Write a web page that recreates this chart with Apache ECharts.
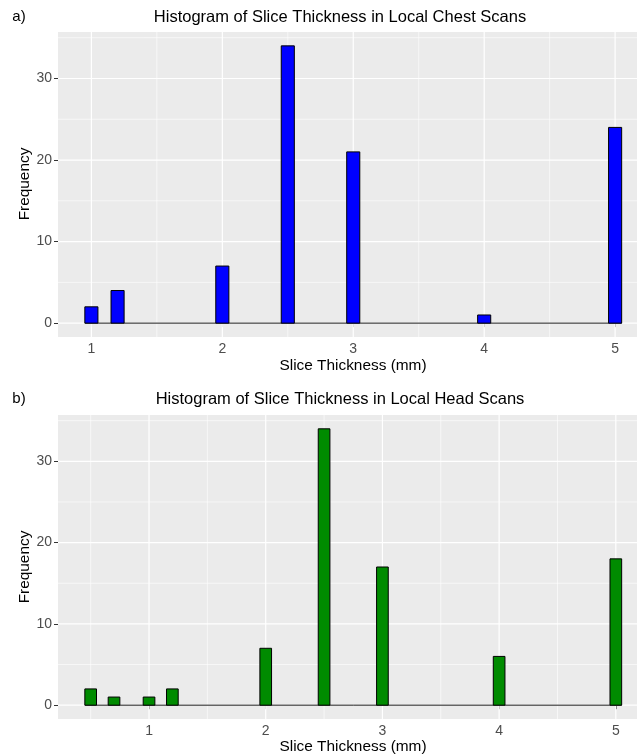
<!DOCTYPE html>
<html>
<head>
<meta charset="utf-8">
<script src="https://cdn.jsdelivr.net/npm/echarts@6/dist/echarts.min.js"></script>
<style>
  html, body { margin: 0; padding: 0; background: #ffffff; }
  #chart { width: 637px; height: 756px; }
</style>
</head>
<body>
<div id="chart"></div>
<script>
// Slice thickness (mm) observed in each scan set, and how many scans had it
const chestThickness = [1.0, 1.2, 2.0, 2.5, 3.0, 4.0, 5.0];
const chestCounts    = [2, 4, 7, 34, 21, 1, 24];
const headThickness  = [0.5, 0.7, 1.0, 1.2, 2.0, 2.5, 3.0, 4.0, 5.0];
const headCounts     = [2, 1, 1, 2, 7, 34, 17, 6, 18];
const binWidth = 0.1;

// Axis breaks
const xBreaks = [1, 2, 3, 4, 5];
const yBreaks = [0, 10, 20, 30];
const xMinorChest = [1.5, 2.5, 3.5, 4.5];
const xMinorHead  = [0.5, 1.5, 2.5, 3.5, 4.5];
const yMinor = [5, 15, 25, 35];

const FONT = '"Liberation Sans", Arial, Helvetica, sans-serif';
const PANEL_BG = '#EBEBEB';

// ggplot-like 5% padding around the binned range
function xRange(values) {
  const lo = Math.min(...values) - binWidth / 2;
  const hi = Math.max(...values) + binWidth / 2;
  const pad = 0.05 * (hi - lo);
  return { lo, hi, min: lo - pad, max: hi + pad };
}
function yRange(counts) {
  const hi = Math.max(...counts);
  return { min: -0.05 * hi, max: hi * 1.05 };
}

const chestX = xRange(chestThickness), headX = xRange(headThickness);
const chestY = yRange(chestCounts),    headY = yRange(headCounts);

function gridLineSeries(gridIndex, dir, values, width) {
  return {
    type: 'custom',
    xAxisIndex: gridIndex, yAxisIndex: gridIndex,
    silent: true, z: 1,
    data: values.map(v => dir === 'v' ? [v, 0] : [1, v]),
    encode: { x: 0, y: 1 },
    renderItem(params, api) {
      const cs = params.coordSys;
      if (dir === 'v') {
        const px = api.coord([api.value(0), 0])[0];
        return { type: 'line', shape: { x1: px, y1: cs.y, x2: px, y2: cs.y + cs.height },
                 style: { stroke: '#ffffff', lineWidth: width } };
      }
      const py = api.coord([1, api.value(1)])[1];
      return { type: 'line', shape: { x1: cs.x, y1: py, x2: cs.x + cs.width, y2: py },
               style: { stroke: '#ffffff', lineWidth: width } };
    }
  };
}

function barSeries(gridIndex, xs, counts, color) {
  return {
    type: 'custom',
    xAxisIndex: gridIndex, yAxisIndex: gridIndex,
    z: 3,
    data: xs.map((x, i) => [x, counts[i]]),
    encode: { x: 0, y: 1 },
    renderItem(params, api) {
      const x = api.value(0), y = api.value(1);
      const p0 = api.coord([x - binWidth / 2, y]);
      const p1 = api.coord([x + binWidth / 2, 0]);
      return { type: 'rect',
               shape: { x: p0[0], y: p0[1], width: p1[0] - p0[0], height: p1[1] - p0[1] },
               style: { fill: color, stroke: '#000000', lineWidth: 1 } };
    }
  };
}

function baselineSeries(gridIndex, range) {
  return {
    type: 'line', xAxisIndex: gridIndex, yAxisIndex: gridIndex,
    silent: true, z: 2, symbol: 'none',
    data: [[range.lo, 0], [range.hi, 0]],
    lineStyle: { color: '#1a1a1a', width: 1 }
  };
}

function xAxis(gridIndex, range) {
  return {
    type: 'value', gridIndex, min: range.min, max: range.max,
    axisLine: { show: false },
    axisTick: { show: true, length: 4, customValues: xBreaks, lineStyle: { color: '#333333', width: 1 } },
    axisLabel: { customValues: xBreaks, color: '#4D4D4D', fontSize: 14, fontFamily: FONT, margin: 5 },
    splitLine: { show: false }
  };
}
function yAxis(gridIndex, range) {
  return {
    type: 'value', gridIndex, min: range.min, max: range.max,
    axisLine: { show: false },
    axisTick: { show: true, length: 4, customValues: yBreaks, lineStyle: { color: '#333333', width: 1 } },
    axisLabel: { customValues: yBreaks, color: '#4D4D4D', fontSize: 14, fontFamily: FONT, margin: 6 },
    splitLine: { show: false }
  };
}

function label(text, x, y, size, opts) {
  return Object.assign({
    type: 'text', x, y, silent: true,
    style: { text, fill: '#000000', font: size + 'px ' + FONT, textAlign: 'center', textVerticalAlign: 'middle' }
  }, opts || {});
}

// Panels run a little past the right edge of the canvas
const panelBase = { left: 58, width: 590.5, show: true, backgroundColor: PANEL_BG, borderWidth: 0,
                    containLabel: false, outerBoundsMode: 'none' };

const chart = echarts.init(document.getElementById('chart'), null, { renderer: 'canvas' });
chart.setOption({
  animation: false,
  backgroundColor: '#ffffff',
  grid: [
    Object.assign({ top: 32,  height: 305 }, panelBase),
    Object.assign({ top: 415, height: 304 }, panelBase)
  ],
  xAxis: [xAxis(0, chestX), xAxis(1, headX)],
  yAxis: [yAxis(0, chestY), yAxis(1, headY)],
  series: [
    gridLineSeries(0, 'v', xMinorChest, 0.6),
    gridLineSeries(0, 'h', yMinor, 0.6),
    gridLineSeries(0, 'v', xBreaks, 1.2),
    gridLineSeries(0, 'h', yBreaks, 1.2),
    baselineSeries(0, chestX),
    barSeries(0, chestThickness, chestCounts, '#0000FF'),

    gridLineSeries(1, 'v', xMinorHead, 0.6),
    gridLineSeries(1, 'h', yMinor, 0.6),
    gridLineSeries(1, 'v', xBreaks, 1.2),
    gridLineSeries(1, 'h', yBreaks, 1.2),
    baselineSeries(1, headX),
    barSeries(1, headThickness, headCounts, '#008B00')
  ],
  graphic: [
    label('a)', 19, 17, 15),
    label('Histogram of Slice Thickness in Local Chest Scans', 340, 17, 16.5),
    label('Slice Thickness (mm)', 353, 366, 15.4),
    label('Frequency', 25, 184, 15.4, { rotation: Math.PI / 2 }),

    label('b)', 19, 399, 15),
    label('Histogram of Slice Thickness in Local Head Scans', 340, 399, 16.5),
    label('Slice Thickness (mm)', 353, 747, 15.4),
    label('Frequency', 25, 567, 15.4, { rotation: Math.PI / 2 })
  ]
});
</script>
</body>
</html>
